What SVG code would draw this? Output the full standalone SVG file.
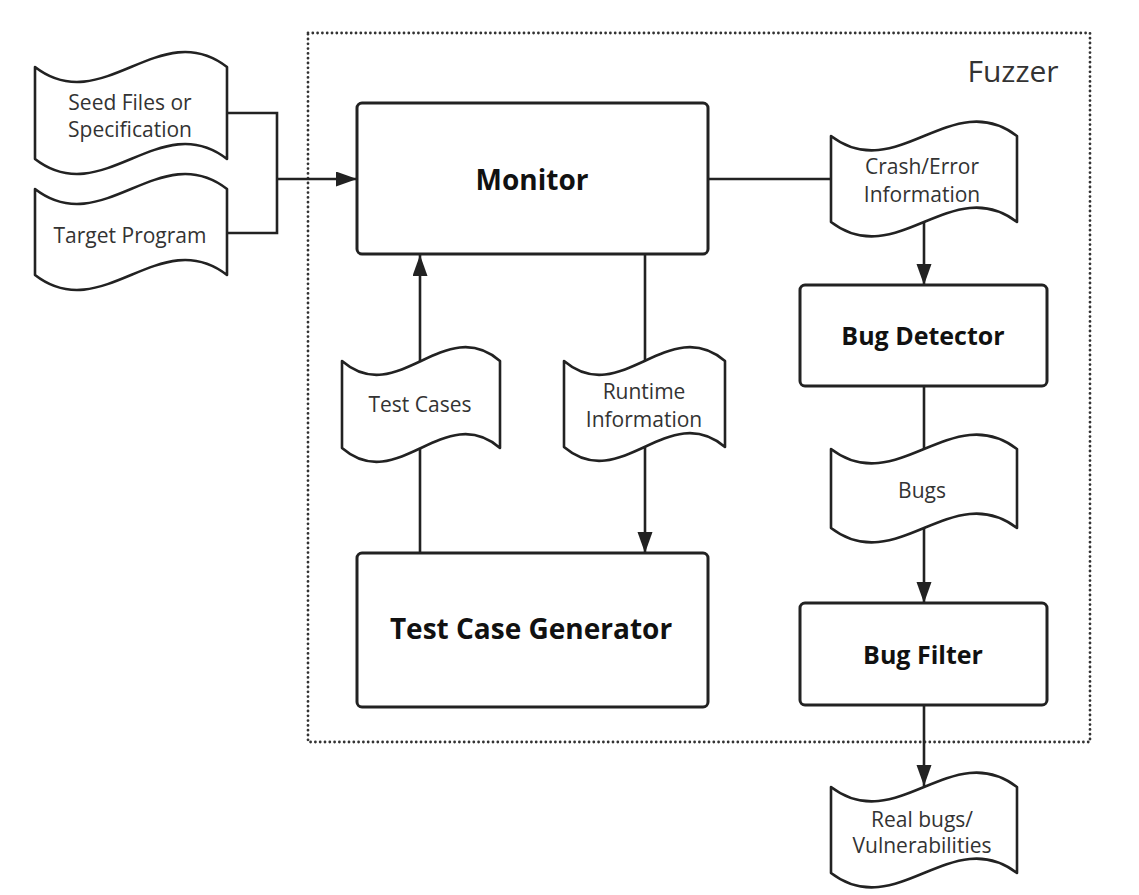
<svg xmlns="http://www.w3.org/2000/svg" width="1139" height="895" viewBox="0 0 1139 895">
<style>
.box{fill:#fff;stroke:#222;stroke-width:3}
.doc{fill:#fff;stroke:#222;stroke-width:2.6;stroke-linejoin:round}
.ln{fill:none;stroke:#222;stroke-width:2.6}
.t{font-family:"Open Sans","Noto Sans",sans-serif;font-size:21px;fill:#333;text-anchor:middle}
.b{font-family:"Open Sans","Noto Sans",sans-serif;font-weight:bold;fill:#111;text-anchor:middle}
.frame{fill:none;stroke:#333;stroke-width:2.8;stroke-dasharray:0 4.8;stroke-linecap:round}
</style>
<defs>
<marker id="ah" markerUnits="userSpaceOnUse" markerWidth="22" markerHeight="16" refX="21" refY="7.5" orient="auto">
<path d="M0,0 L21,7.5 L0,15 z" fill="#222"/>
</marker>
</defs>
<rect class="frame" x="308" y="33" width="782" height="709"/>
<text class="t" x="1013" y="82" style="font-size:30px">Fuzzer</text>
<g id="connectors">
<path class="ln" d="M227,113 H277 V233 H227"/>
<path class="ln" d="M277,179 H357" marker-end="url(#ah)"/>
<path class="ln" d="M708,179 H831"/>
<path class="ln" d="M924,222 V285" marker-end="url(#ah)"/>
<path class="ln" d="M924,386 V449"/>
<path class="ln" d="M924,528 V603" marker-end="url(#ah)"/>
<path class="ln" d="M924,705 V786" marker-end="url(#ah)"/>
<path class="ln" d="M420,553 V447"/>
<path class="ln" d="M420,361 V255" marker-end="url(#ah)"/>
<path class="ln" d="M645,254 V361"/>
<path class="ln" d="M645,447 V553" marker-end="url(#ah)"/>
</g>
<g id="seed">
<path class="doc" d="M35,67 C102.2,119 159.8,15 227,67 L227,159 C159.8,107 102.2,211 35,159 Z"/>
<text class="t" x="130" y="110">Seed Files or</text>
<text class="t" x="130" y="137">Specification</text>
</g>
<g id="target">
<path class="doc" d="M35,189 C102.2,241 159.8,137 227,189 L227,275 C159.8,223 102.2,327 35,275 Z"/>
<text class="t" x="130" y="243">Target Program</text>
</g>
<g id="monitor">
<rect class="box" x="357" y="103" width="351" height="151" rx="5"/>
<text class="b" x="532" y="190" style="font-size:28px">Monitor</text>
</g>
<g id="testcases">
<path class="doc" d="M342,361 C397.3,409 444.7,313 500,361 L500,448 C444.7,400 397.3,496 342,448 Z"/>
<text class="t" x="420" y="412">Test Cases</text>
</g>
<g id="runtime">
<path class="doc" d="M564,361 C620.4,409 668.7,313 725,361 L725,447 C668.7,399 620.4,495 564,447 Z"/>
<text class="t" x="644" y="399">Runtime</text>
<text class="t" x="644" y="427">Information</text>
</g>
<g id="generator">
<rect class="box" x="357" y="553" width="351" height="154" rx="5"/>
<text class="b" x="531" y="639" style="font-size:28px">Test Case Generator</text>
</g>
<g id="crash">
<path class="doc" d="M831,136 C896.1,186 951.9,86 1017,136 L1017,222 C951.9,172 896.1,272 831,222 Z"/>
<text class="t" x="922" y="174">Crash/Error</text>
<text class="t" x="922" y="202">Information</text>
</g>
<g id="detector">
<rect class="box" x="800" y="285" width="247" height="101" rx="5"/>
<text class="b" x="923" y="345" style="font-size:25px">Bug Detector</text>
</g>
<g id="bugs">
<path class="doc" d="M831,449 C896.1,499 951.9,399 1017,449 L1017,528 C951.9,478 896.1,578 831,528 Z"/>
<text class="t" x="922" y="498">Bugs</text>
</g>
<g id="filter">
<rect class="box" x="800" y="603" width="247" height="102" rx="5"/>
<text class="b" x="923" y="664" style="font-size:25px">Bug Filter</text>
</g>
<g id="real">
<path class="doc" d="M831,787 C896.1,837 951.9,737 1017,787 L1017,873 C951.9,823 896.1,923 831,873 Z"/>
<text class="t" x="922" y="827">Real bugs/</text>
<text class="t" x="922" y="853">Vulnerabilities</text>
</g>
</svg>
